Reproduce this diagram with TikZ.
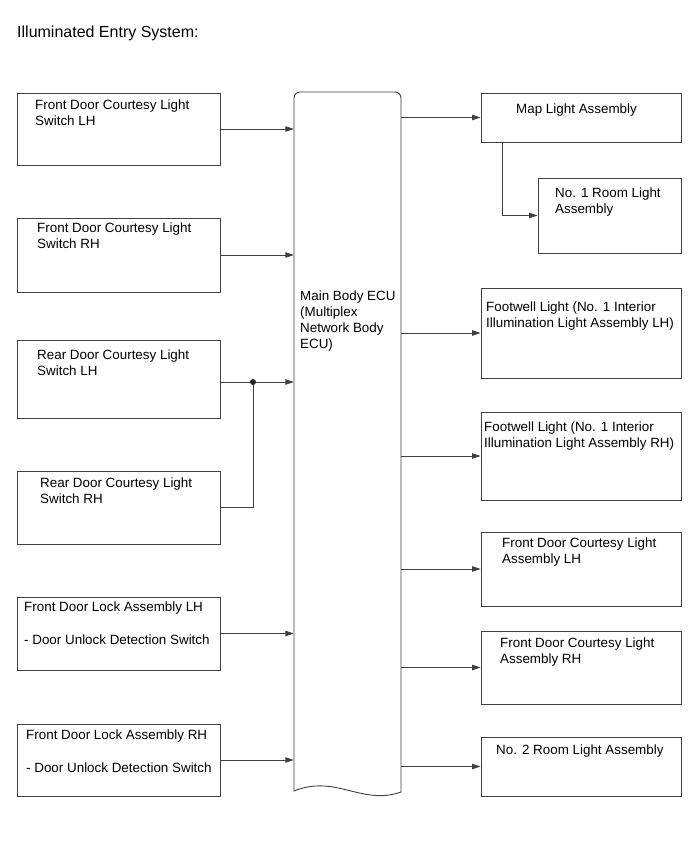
\documentclass[tikz,border=0pt]{standalone}
\usepackage{fontspec}
\setmainfont{Liberation Sans}
\usetikzlibrary{arrows.meta,fit}
\begin{document}
\begin{tikzpicture}[x=1pt,y=-1pt,
  lin/.style={draw=black!75, line width=0.9pt},
  box/.style={lin, inner sep=0pt, rectangle},
  txt/.style={anchor=north west, align=left, inner sep=0pt, font=\fontsize{13.4}{15.8}\selectfont},
  arr/.style={lin, -{Triangle[length=8.5pt,width=5.5pt]}}]
\useasboundingbox (0,0) rectangle (689,853);
\fill[white] (0,0) rectangle (689,853);
\node[txt, font=\fontsize{16}{19}\selectfont] (title) at (17,26) {Illuminated Entry System:};
% ECU
\node[inner sep=0pt, fit={(294,92)(401,791)}] (ecu) {};
\draw[lin] (401,792) .. controls (362,806) and (336,774) .. (294,791)
  [rounded corners=6] -- (294,92) -- (401,92) -- (401,200) [sharp corners] -- (401,792);
\node[txt] (ecut) at (300,291) {Main Body ECU\\(Multiplex\\Network Body\\ECU)};
% left boxes
\node[box, fit={(17,93)(220,165)}] (b1) {};
\node[box, fit={(17,218)(220,292)}] (b2) {};
\node[box, fit={(17,340)(220,418)}] (b3) {};
\node[box, fit={(17,471)(220,544)}] (b4) {};
\node[box, fit={(17,597)(220,670)}] (b5) {};
\node[box, fit={(17,724)(220,796)}] (b6) {};
\node[txt] (t1) at (35,100) {Front Door Courtesy Light\\Switch LH};
\node[txt] (t2) at (37,223) {Front Door Courtesy Light\\Switch RH};
\node[txt] (t3) at (37,350) {Rear Door Courtesy Light\\Switch LH};
\node[txt] (t4) at (40,478) {Rear Door Courtesy Light\\Switch RH};
\node[txt] (t5) at (24,602) {Front Door Lock Assembly LH\\[17pt]- Door Unlock Detection Switch};
\node[txt] (t6) at (26,730) {Front Door Lock Assembly RH\\[17pt]- Door Unlock Detection Switch};
% right boxes
\node[box, fit={(481,93)(681,142)}] (r1) {};
\node[box, fit={(538,178)(681,253)}] (r2) {};
\node[box, fit={(481,288)(681,378)}] (r3) {};
\node[box, fit={(481,412)(681,500)}] (r4) {};
\node[box, fit={(481,532)(681,606)}] (r5) {};
\node[box, fit={(481,631)(681,704)}] (r6) {};
\node[box, fit={(481,737)(681,796)}] (r7) {};
\node[txt] (s1) at (516,104) {Map Light Assembly};
\node[txt] (s2) at (555,188) {No. 1 Room Light\\Assembly};
\node[txt] (s3) at (486,302) {Footwell Light (No. 1 Interior\\Illumination Light Assembly LH)};
\node[txt] (s4) at (484,422) {Footwell Light (No. 1 Interior\\Illumination Light Assembly RH)};
\node[txt] (s5) at (502,538) {Front Door Courtesy Light\\Assembly LH};
\node[txt] (s6) at (500,638) {Front Door Courtesy Light\\Assembly RH};
\node[txt] (s7) at (496,745) {No. 2 Room Light Assembly};
% left connectors
\draw[arr] (b1.east) -- (b1.east -| ecu.west);
\draw[arr] (b2.east) -- (b2.east -| ecu.west);
\coordinate (j) at (253,382);
\draw[arr] (b3.east |- j) -- (j -| ecu.west);
\draw[lin] (b4.east) -| (j);
\fill[black!85] (j) circle (3);
\draw[arr] (b5.east) -- (b5.east -| ecu.west);
\draw[arr] (b6.east) -- (b6.east -| ecu.west);
% right connectors
\draw[arr] (r1.west -| ecu.east) -- (r1.west);
\draw[arr] ([xshift=22pt]r1.south west) |- (r2.west);
\draw[arr] (r3.west -| ecu.east) -- (r3.west);
\draw[arr] (r4.west -| ecu.east) -- (r4.west);
\draw[arr] (r5.west -| ecu.east) -- (r5.west);
\draw[arr] (r6.west -| ecu.east) -- (r6.west);
\draw[arr] (r7.west -| ecu.east) -- (r7.west);
\end{tikzpicture}
\end{document}
